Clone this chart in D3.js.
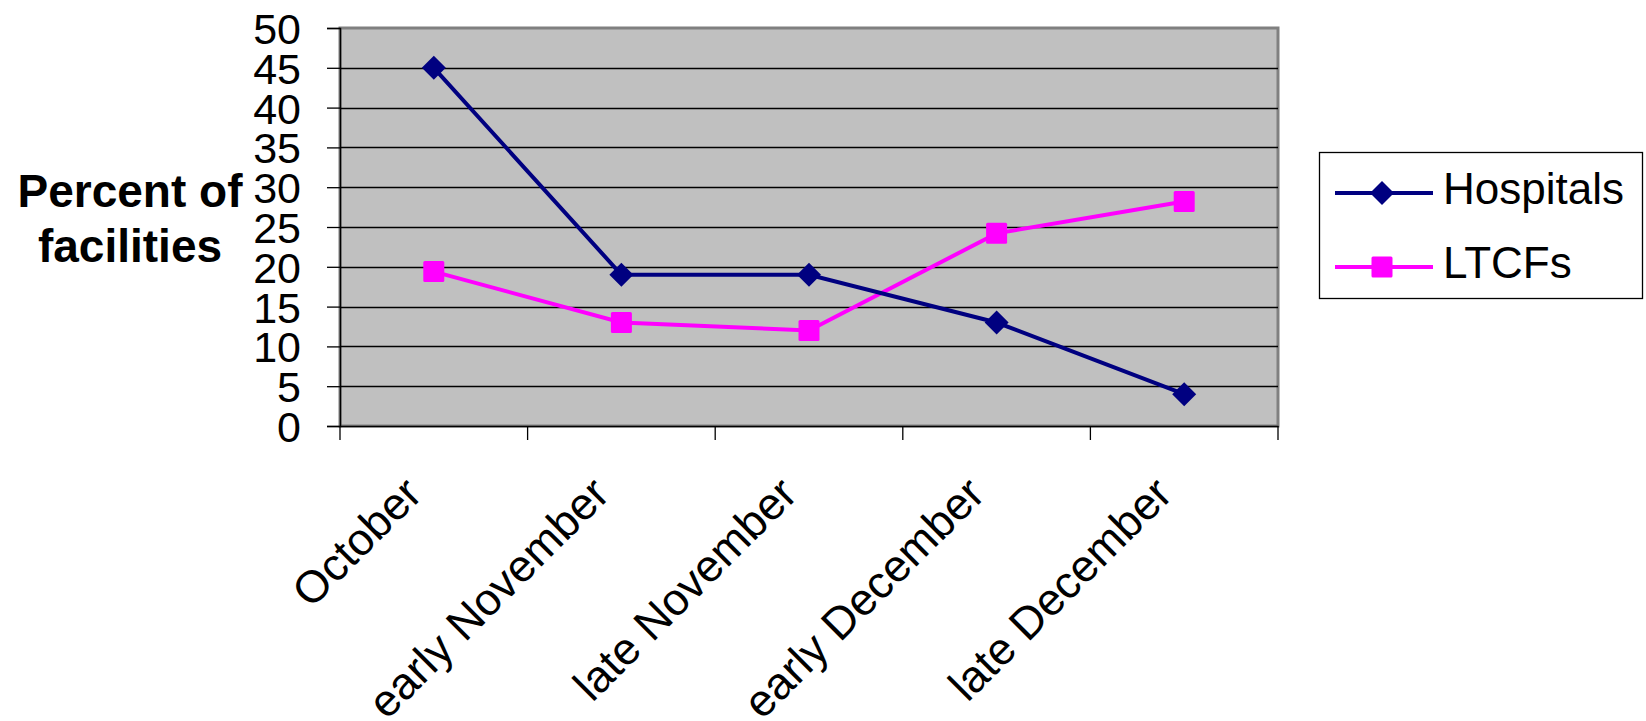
<!DOCTYPE html>
<html>
<head>
<meta charset="utf-8">
<script src="https://cdn.jsdelivr.net/npm/d3@7"></script>
<style>
  body { margin: 0; background: #fff; }
  text { font-family: Arial, "Liberation Sans", sans-serif; }
</style>
</head>
<body>
<div id="chart"></div>
<script>
// chart data
var categories = ["October", "early November", "late November", "early December", "late December"];
var hospitals = [45, 19, 19, 13, 4];
var ltcfs = [19.4, 13, 12, 24.2, 28.2];
var yTicks = [0, 5, 10, 15, 20, 25, 30, 35, 40, 45, 50];
var seriesNames = ["Hospitals", "LTCFs"];

var W = 1646, H = 721;
var plot = { left: 340, right: 1278, top: 28, bottom: 426 };

var svg = d3.select("#chart").append("svg")
  .attr("width", W).attr("height", H);

var xScale = d3.scaleBand().domain(categories).range([plot.left, plot.right]);
var yScale = d3.scaleLinear().domain([0, 50]).range([plot.bottom, plot.top]);

// plot background
svg.append("rect")
  .attr("x", plot.left).attr("y", plot.top)
  .attr("width", plot.right - plot.left).attr("height", plot.bottom - plot.top)
  .attr("fill", "#c0c0c0")
  .attr("stroke", "#808080").attr("stroke-width", 3);

// gridlines
svg.append("g").selectAll("line").data(yTicks.slice(1, -1)).enter().append("line")
  .attr("x1", plot.left).attr("x2", plot.right)
  .attr("y1", function(d) { return Math.round(yScale(d)) + 0.5; })
  .attr("y2", function(d) { return Math.round(yScale(d)) + 0.5; })
  .attr("stroke", "#000").attr("stroke-width", 1.3);

// y axis
var yAxisCall = d3.axisLeft(yScale).tickValues(yTicks).tickSize(13).tickPadding(26);
var gy = svg.append("g").attr("transform", "translate(" + plot.left + ",0)").call(yAxisCall);
gy.select(".domain").attr("stroke", "#000").attr("stroke-width", 1.5);
gy.selectAll(".tick line").attr("stroke", "#000").attr("stroke-width", 1.3);
gy.selectAll(".tick text")
  .attr("font-size", 43).attr("fill", "#000")
  .attr("font-family", "Arial, 'Liberation Sans', sans-serif")
  .attr("dy", "0.36em");

// x axis
var xAxisCall = d3.axisBottom(xScale).tickSize(0).tickFormat("");
var gx = svg.append("g").attr("transform", "translate(0," + plot.bottom + ")").call(xAxisCall);
gx.select(".domain").attr("stroke", "#000").attr("stroke-width", 1.5);

// x tick marks at category boundaries
var bounds = categories.map(function(c) { return xScale(c); }).concat([plot.right]);
svg.append("g").selectAll("line").data(bounds).enter().append("line")
  .attr("x1", function(d) { return d; }).attr("x2", function(d) { return d; })
  .attr("y1", plot.bottom).attr("y2", plot.bottom + 14)
  .attr("stroke", "#000").attr("stroke-width", 1.3);

// rotated category labels
svg.append("g").selectAll("text").data(categories).enter().append("text")
  .attr("transform", function(d) {
    var cx = xScale(d) + xScale.bandwidth() / 2 - 32;
    return "translate(" + cx + "," + (plot.bottom + 48) + ") rotate(-45)";
  })
  .attr("text-anchor", "end")
  .attr("dy", "0.7em")
  .attr("font-size", 45).attr("fill", "#000")
  .text(function(d) { return d; });

// y title
var yt = svg.append("text").attr("text-anchor", "middle")
  .attr("font-size", 46).attr("font-weight", "bold").attr("fill", "#000");
yt.append("tspan").attr("x", 130).attr("y", 207).text("Percent of");
yt.append("tspan").attr("x", 130).attr("y", 262).text("facilities");

// lines
var valueline = d3.line()
  .x(function(d, i) { return xScale(categories[i]) + xScale.bandwidth() / 2; })
  .y(function(d) { return yScale(d); });

svg.append("path").datum(ltcfs).attr("d", valueline)
  .attr("fill", "none").attr("stroke", "#ff00ff").attr("stroke-width", 4);
svg.append("path").datum(hospitals).attr("d", valueline)
  .attr("fill", "none").attr("stroke", "#000080").attr("stroke-width", 4);

// markers
svg.append("g").selectAll("rect").data(ltcfs).enter().append("rect")
  .attr("x", function(d, i) { return xScale(categories[i]) + xScale.bandwidth() / 2 - 10.5; })
  .attr("y", function(d) { return yScale(d) - 10.5; })
  .attr("width", 21).attr("height", 21).attr("rx", 1.5)
  .attr("fill", "#ff00ff");

var diamond = "M0,-12L12,0L0,12L-12,0Z";
svg.append("g").selectAll("path").data(hospitals).enter().append("path")
  .attr("transform", function(d, i) {
    return "translate(" + (xScale(categories[i]) + xScale.bandwidth() / 2) + "," + yScale(d) + ")";
  })
  .attr("d", diamond).attr("fill", "#000080");

// legend
var lg = svg.append("g");
lg.append("rect").attr("x", 1319.5).attr("y", 152.5).attr("width", 323).attr("height", 146)
  .attr("fill", "#fff").attr("stroke", "#000").attr("stroke-width", 1.3);

var legendY = [193, 267];
var legendColors = ["#000080", "#ff00ff"];
seriesNames.forEach(function(name, i) {
  lg.append("line").attr("x1", 1335).attr("x2", 1433)
    .attr("y1", legendY[i]).attr("y2", legendY[i])
    .attr("stroke", legendColors[i]).attr("stroke-width", 4);
  if (i == 0) {
    lg.append("path").attr("d", diamond)
      .attr("transform", "translate(1382," + legendY[i] + ")").attr("fill", legendColors[i]);
  } else {
    lg.append("rect").attr("x", 1371.5).attr("y", legendY[i] - 10.5)
      .attr("width", 21).attr("height", 21).attr("rx", 1.5).attr("fill", legendColors[i]);
  }
  lg.append("text").attr("x", 1443).attr("y", legendY[i] + 11)
    .attr("font-size", 44).attr("fill", "#000").text(name);
});
</script>
</body>
</html>
